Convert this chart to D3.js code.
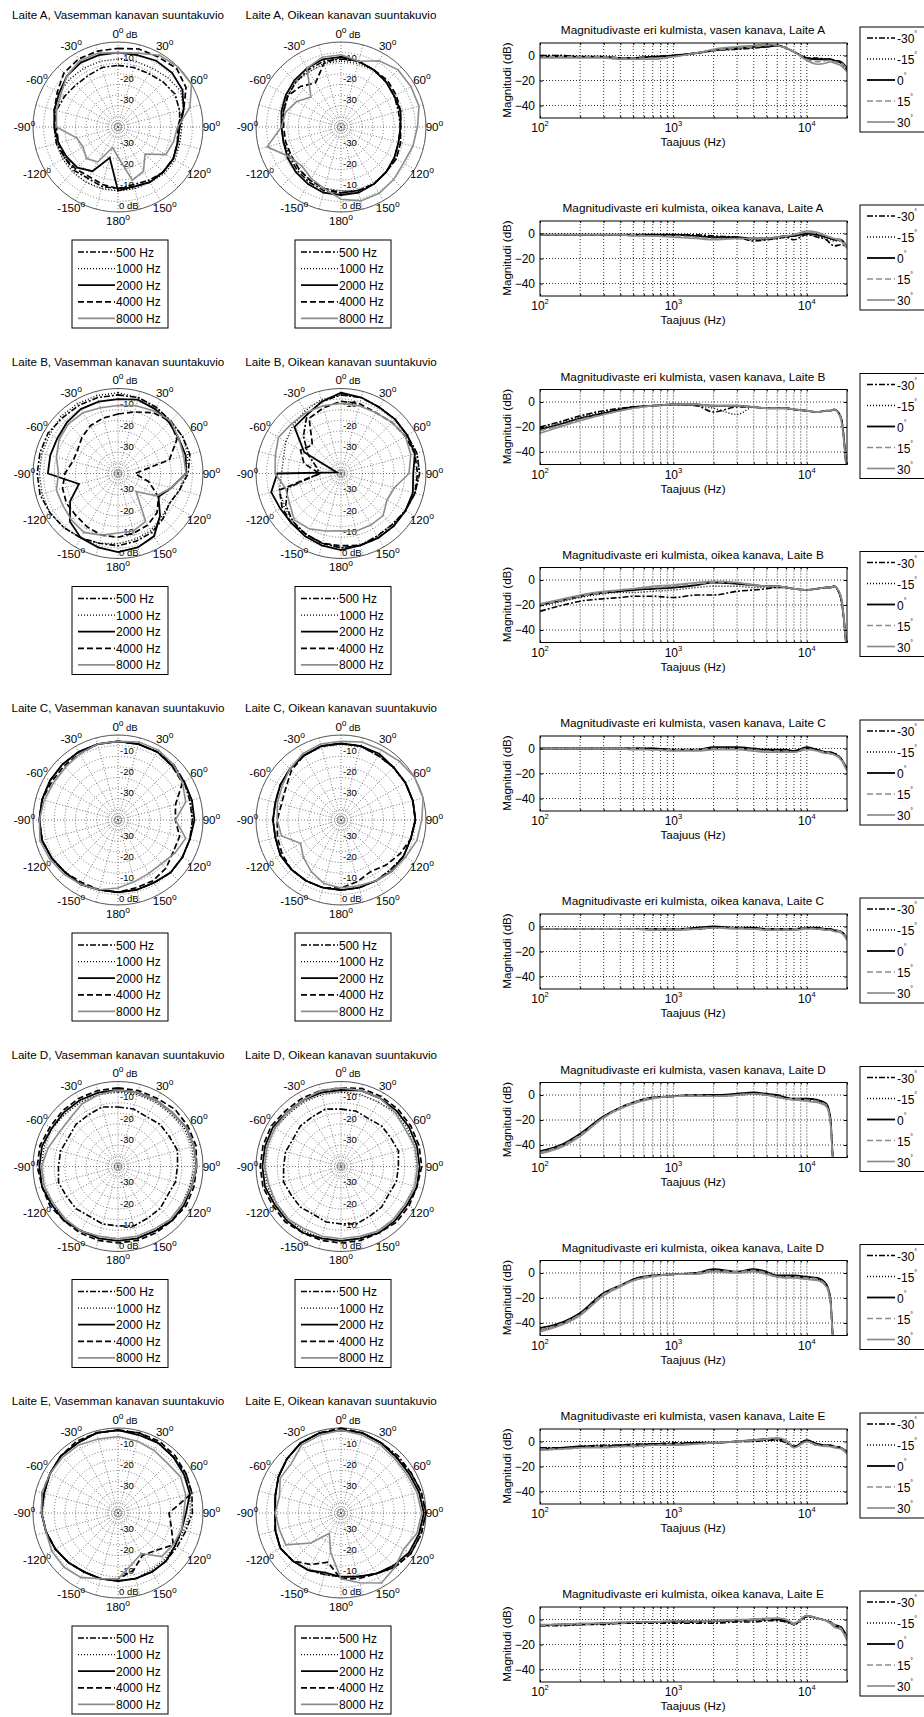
<!DOCTYPE html>
<html>
<head>
<meta charset="utf-8">
<script src="https://cdn.jsdelivr.net/npm/d3@7"></script>
<style>
  body { margin: 0; background: #fff; }
  text { font-family: "Liberation Sans", Arial, sans-serif; fill: #000; }
</style>
</head>
<body>
<div id="chart"></div>
<script>
// ---- data ----
// polar angles (deg, clockwise from front), 345 = -15
var angles = [0, 15, 30, 45, 60, 75, 90, 105, 120, 135, 150, 165, 180, 195, 210, 225, 240, 255, 270, 285, 300, 315, 330, 345];
var angleLabels = [0, 30, 60, 90, 120, 150, 180, -150, -120, -90, -60, -30];
var ringLabels = [-30, -20, -10];
var freqNames = ['500 Hz', '1000 Hz', '2000 Hz', '4000 Hz', '8000 Hz'];
var dirNames = ['-30', '-15', '0', '15', '30'];

var polarTitles = [
  'Laite A, Vasemman kanavan suuntakuvio', 'Laite A, Oikean kanavan suuntakuvio',
  'Laite B, Vasemman kanavan suuntakuvio', 'Laite B, Oikean kanavan suuntakuvio',
  'Laite C, Vasemman kanavan suuntakuvio', 'Laite C, Oikean kanavan suuntakuvio',
  'Laite D, Vasemman kanavan suuntakuvio', 'Laite D, Oikean kanavan suuntakuvio',
  'Laite E, Vasemman kanavan suuntakuvio', 'Laite E, Oikean kanavan suuntakuvio'
];
var magTitles = [
  'Magnitudivaste eri kulmista, vasen kanava, Laite A', 'Magnitudivaste eri kulmista, oikea kanava, Laite A',
  'Magnitudivaste eri kulmista, vasen kanava, Laite B', 'Magnitudivaste eri kulmista, oikea kanava, Laite B',
  'Magnitudivaste eri kulmista, vasen kanava, Laite C', 'Magnitudivaste eri kulmista, oikea kanava, Laite C',
  'Magnitudivaste eri kulmista, vasen kanava, Laite D', 'Magnitudivaste eri kulmista, oikea kanava, Laite D',
  'Magnitudivaste eri kulmista, vasen kanava, Laite E', 'Magnitudivaste eri kulmista, oikea kanava, Laite E'
];

// directivity, dB per angle; rows: 500, 1000, 2000, 4000, 8000 Hz
var polarAL = [
  [-11,-11,-11,-10,-9,-10,-11,-11,-10,-10,-11,-12,-11,-11,-12,-11,-11,-10,-10,-10,-11,-12,-12,-11],
  [-8,-8,-8,-7,-6,-8,-10,-10,-9,-9,-10,-10,-10,-10,-10,-10,-10,-10,-10,-9,-8,-8,-8,-8],
  [-5,-5,-4,-4,-5,-8,-11,-11,-10,-10,-10,-11,-10,-25,-16,-13,-12,-11,-10,-9,-8,-6,-5,-5],
  [-3,-2,-2,-1,-3,-8,-12,-11,-10,-10,-10,-11,-11,-12,-13,-12,-11,-11,-11,-9,-7,-4,-3,-3],
  [-5,-4,-1,0,0,-5,-12,-13,-14,-22,-16,-14,-26,-30,-21,-19,-21,-20,-11,-10,-9,-6,-4,-4]
];
var polarAR = [
  [-8,-8,-9,-10,-11,-12,-12,-12,-11,-10,-9,-9,-9,-9,-10,-11,-12,-12,-12,-12,-11,-10,-9,-8],
  [-9,-9,-9,-10,-11,-11,-12,-11,-10,-10,-9,-9,-10,-10,-11,-12,-13,-12,-12,-11,-11,-10,-10,-9],
  [-7,-8,-9,-10,-11,-11,-12,-12,-11,-10,-9,-8,-8,-8,-9,-10,-11,-12,-12,-11,-10,-9,-8,-7],
  [-7,-8,-9,-9,-10,-11,-12,-11,-10,-10,-9,-9,-9,-10,-11,-12,-13,-13,-13,-12,-11,-13,-16,-9],
  [-6,-8,-4,-2,-2,-2,-4,-5,-6,-5,-4,-4,-6,-10,-12,-14,-12,-4,-12,-13,-16,-20,-8,-6]
];
var polarBL = [
  [-3,-3,-4,-5,-5,-5,-7,-10,-12,-10,-8,-7,-6,-6,-5,-4,-3,-2,-2,-2,-2,-3,-3,-3],
  [-2,-3,-4,-5,-5,-6,-8,-10,-12,-11,-9,-8,-7,-6,-5,-4,-3,-3,-3,-3,-3,-2,-2,-2],
  [-5,-4,-5,-6,-7,-7,-8,-14,-18,-12,-6,-4,-3,-4,-5,-8,-14,-21,-7,-7,-7,-6,-5,-5],
  [-12,-10,-7,-5,-8,-15,-32,-25,-18,-14,-12,-11,-10,-10,-11,-12,-12,-13,-15,-18,-18,-16,-14,-13],
  [-8,-7,-6,-5,-7,-8,-8,-14,-19,-28,-14,-12,-12,-10,-8,-9,-10,-10,-12,-10,-8,-7,-7,-8]
];
var polarBR = [
  [-3,-3,-4,-4,-4,-3,-3,-4,-5,-6,-6,-5,-5,-6,-7,-8,-10,-14,-30,-28,-22,-15,-8,-5],
  [-3,-3,-4,-4,-4,-3,-3,-4,-5,-6,-6,-5,-5,-6,-7,-8,-9,-10,-12,-12,-10,-8,-6,-4],
  [-2,-3,-4,-4,-4,-4,-6,-5,-5,-5,-5,-5,-4,-5,-6,-7,-7,-6,-10,-38,-20,-9,-8,-5],
  [-6,-6,-7,-6,-5,-4,-4,-4,-5,-5,-5,-5,-6,-6,-7,-7,-8,-10,-30,-22,-18,-21,-10,-8],
  [-7,-7,-7,-6,-5,-6,-8,-14,-15,-12,-12,-12,-13,-12,-10,-9,-12,-13,-9,-8,-6,-7,-7,-7]
];
var polarCL = [
  [-3,-3,-3,-3,-4,-5,-5,-5,-5,-5,-6,-6,-6,-6,-5,-5,-4,-3,-3,-3,-3,-3,-3,-3],
  [-3,-3,-3,-3,-4,-4,-5,-5,-5,-5,-6,-6,-6,-6,-5,-5,-4,-3,-3,-3,-3,-3,-3,-3],
  [-3,-3,-3,-4,-4,-4,-4,-5,-5,-5,-6,-6,-6,-6,-5,-5,-4,-3,-3,-3,-3,-3,-3,-3],
  [-3,-3,-3,-4,-5,-12,-13,-10,-10,-8,-7,-7,-6,-6,-6,-5,-4,-3,-3,-3,-4,-4,-4,-3],
  [-3,-2,-2,-3,-5,-7,-13,-7,-9,-11,-11,-10,-8,-6,-5,-4,-3,-2,-3,-4,-5,-5,-4,-3]
];
var polarCR = [
  [-4,-4,-5,-5,-5,-5,-5,-6,-6,-7,-7,-7,-7,-7,-7,-7,-7,-8,-8,-8,-7,-6,-5,-4],
  [-4,-4,-5,-5,-5,-5,-5,-6,-6,-7,-7,-7,-7,-7,-7,-7,-7,-8,-8,-8,-7,-6,-5,-4],
  [-4,-4,-4,-5,-5,-5,-5,-6,-6,-6,-7,-7,-7,-7,-7,-7,-7,-8,-8,-8,-7,-6,-5,-4],
  [-4,-4,-5,-5,-5,-5,-5,-6,-8,-10,-12,-10,-8,-7,-7,-7,-8,-9,-10,-11,-10,-7,-5,-4],
  [-3,-2,-2,-1,0,0,-2,-3,-5,-6,-7,-8,-8,-9,-12,-15,-18,-11,-10,-9,-8,-6,-4,-3]
];
var polarDL = [
  [-12,-12,-13,-12,-12,-11,-12,-12,-13,-12,-12,-11,-12,-12,-13,-12,-12,-11,-12,-12,-13,-12,-12,-11],
  [-5,-5,-5,-5,-4,-4,-4,-5,-5,-5,-5,-6,-6,-6,-5,-5,-4,-4,-4,-4,-4,-5,-5,-5],
  [-4,-4,-4,-4,-3,-3,-3,-4,-4,-4,-5,-5,-5,-5,-5,-4,-4,-3,-3,-3,-4,-4,-4,-4],
  [-3,-3,-3,-2,-2,-2,-3,-3,-3,-4,-4,-4,-4,-4,-4,-4,-3,-3,-2,-2,-3,-3,-3,-3],
  [-4,-4,-4,-4,-3,-3,-3,-4,-5,-5,-6,-6,-6,-6,-5,-5,-5,-4,-4,-6,-8,-8,-6,-5]
];
var polarDR = [
  [-13,-13,-14,-13,-13,-12,-13,-13,-14,-13,-13,-12,-13,-13,-14,-13,-13,-12,-13,-13,-14,-13,-13,-12],
  [-5,-5,-5,-4,-4,-4,-4,-4,-5,-5,-5,-5,-5,-5,-5,-5,-5,-4,-4,-4,-4,-5,-5,-5],
  [-4,-3,-3,-3,-3,-3,-3,-3,-4,-4,-4,-5,-5,-5,-4,-4,-4,-3,-3,-3,-3,-4,-4,-4],
  [-3,-2,-2,-2,-2,-2,-2,-3,-3,-3,-4,-4,-4,-4,-4,-3,-3,-2,-2,-2,-2,-3,-3,-3],
  [-3,-3,-3,-4,-5,-4,-4,-4,-5,-5,-5,-6,-6,-6,-6,-5,-5,-5,-4,-4,-4,-4,-4,-3]
];
var polarEL = [
  [-1,-1,-2,-3,-3,-4,-5,-7,-8,-8,-8,-8,-8,-8,-8,-7,-6,-5,-4,-3,-3,-2,-2,-1],
  [-1,-1,-2,-3,-4,-5,-6,-8,-9,-9,-9,-8,-8,-8,-8,-7,-6,-5,-4,-4,-3,-2,-2,-1],
  [-1,-2,-2,-3,-4,-5,-8,-9,-9,-8,-8,-8,-8,-8,-8,-7,-6,-5,-4,-4,-3,-2,-2,-1],
  [-1,-1,-1,-2,-3,-4,-16,-14,-10,-15,-17,-12,-9,-8,-8,-7,-6,-5,-4,-4,-3,-2,-1,-1],
  [-4,-5,-6,-7,-6,-7,-9,-9,-10,-11,-18,-15,-9,-8,-5,-4,-4,-5,-4,-3,-3,-3,-3,-4]
];
var polarER = [
  [-1,-1,-2,-2,-2,-1,0,-1,-2,-4,-7,-9,-10,-10,-9,-8,-7,-8,-9,-8,-6,-4,-2,-1],
  [-1,-1,-2,-3,-3,-2,-1,-2,-3,-5,-7,-9,-10,-10,-9,-8,-7,-8,-9,-8,-6,-4,-2,-1],
  [-1,-1,-2,-3,-3,-2,-1,-2,-3,-5,-7,-9,-10,-11,-9,-8,-7,-8,-9,-8,-6,-4,-2,-1],
  [0,-1,-2,-3,-2,-1,0,-1,-2,-4,-7,-8,-9,-16,-12,-8,-7,-8,-9,-8,-6,-4,-2,-1],
  [-1,-2,-3,-4,-4,-3,-2,-3,-6,-4,-2,-6,-9,-21,-29,-20,-10,-10,-9,-10,-7,-7,-3,-2]
];

// magnitude responses; rows: -30, -15, 0, 15, 30 degrees
var freqs = [100, 150, 200, 300, 400, 500, 700, 1000, 1500, 2000, 3000, 4000, 5000, 6000, 7000, 8000, 10000, 12000, 14000, 15000, 16000, 18000, 20000];
var magAL = [
  [0,0,-1,-1,-2,-2,-1,0,2,4,5,6,7,8,6,3,-2,-2,-3,-3,-4,-6,-12],
  [0,0,-1,-1,-2,-2,-1,0,2,4,5,6,7,8,6,3,-2,-3,-3,-3,-4,-6,-12],
  [-1,-1,-1,-1,-2,-2,-1,0,2,4,6,7,7,8,6,3,-2,-3,-3,-3,-4,-5,-10],
  [-1,-1,-1,-1,-2,-2,-2,-1,2,4,6,7,8,8,6,3,-3,-5,-4,-4,-5,-6,-11],
  [-2,-2,-2,-2,-3,-3,-3,-1,2,5,7,8,9,8,6,3,-4,-7,-6,-5,-6,-8,-13]
];
var magAR = [
  [-1,-1,-1,-1,-1,-1,-1,-1,-1,-2,-3,-6,-5,-4,-3,-5,-1,-3,-5,-8,-10,-9,-11],
  [-1,-1,-1,-1,-1,-1,-1,-1,-2,-3,-4,-5,-5,-4,-3,-2,-1,-2,-4,-5,-6,-6,-10],
  [-1,-1,-1,-1,-1,-1,-1,-1,-2,-3,-3,-4,-4,-3,-2,-2,0,-1,-3,-4,-5,-5,-11],
  [-1,-1,-1,-1,-1,-1,-2,-2,-3,-4,-4,-4,-4,-3,-2,-1,1,0,-2,-3,-4,-5,-11],
  [-1,-1,-1,-1,-1,-2,-2,-3,-4,-5,-4,-4,-4,-3,-2,-1,2,1,-2,-3,-4,-6,-12]
];
var magBL = [
  [-20,-15,-11,-7,-5,-4,-3,-2,-3,-8,-4,-4,-5,-5,-5,-6,-7,-8,-7,-7,-6,-12,-60],
  [-21,-16,-12,-8,-6,-4,-3,-2,-3,-5,-10,-4,-5,-5,-5,-6,-7,-8,-7,-7,-6,-13,-60],
  [-22,-17,-13,-9,-6,-4,-3,-2,-2,-3,-3,-4,-5,-5,-5,-6,-7,-8,-7,-7,-6,-12,-60],
  [-23,-18,-14,-10,-7,-5,-3,-2,-2,-3,-3,-4,-5,-5,-5,-6,-7,-8,-7,-7,-6,-12,-60],
  [-25,-19,-15,-10,-7,-5,-3,-2,-2,-3,-3,-4,-5,-5,-5,-6,-7,-8,-7,-7,-6,-14,-60]
];
var magBR = [
  [-25,-20,-17,-15,-14,-13,-13,-14,-12,-12,-9,-8,-7,-6,-6,-7,-8,-7,-6,-6,-5,-15,-60],
  [-21,-17,-14,-11,-10,-10,-9,-8,-6,-5,-5,-6,-6,-6,-6,-7,-8,-7,-6,-6,-5,-14,-60],
  [-20,-16,-13,-10,-9,-8,-7,-6,-4,-2,-3,-4,-5,-5,-6,-7,-8,-7,-6,-6,-5,-14,-60],
  [-20,-16,-13,-10,-8,-7,-6,-5,-3,-2,-2,-4,-5,-5,-6,-7,-8,-7,-6,-6,-5,-13,-60],
  [-19,-15,-12,-9,-8,-7,-5,-4,-2,-1,-2,-4,-5,-5,-6,-7,-8,-7,-6,-6,-5,-13,-60]
];
var magCL = [
  [0,0,0,0,0,0,0,-1,-1,0,0,-1,-1,-2,-2,-2,0,-1,-3,-4,-4,-8,-17],
  [0,0,0,0,0,0,0,-1,-1,0,0,-1,-1,-2,-2,-2,0,-1,-3,-4,-4,-8,-17],
  [0,0,0,0,0,0,0,-1,-1,1,1,0,-1,-1,-1,-2,1,-1,-3,-3,-4,-8,-16],
  [0,0,0,0,0,0,-1,-1,-1,0,0,-1,-2,-2,-2,-3,0,-2,-3,-4,-5,-8,-17],
  [0,0,0,0,0,-1,-1,-2,-2,-1,-1,-2,-3,-3,-3,-3,-1,-2,-4,-4,-5,-9,-18]
];
var magCR = [
  [-2,-2,-2,-2,-2,-2,-2,-2,-2,-1,-1,-2,-2,-2,-2,-2,-1,-2,-2,-3,-3,-4,-10],
  [-2,-2,-2,-2,-2,-2,-2,-2,-2,-1,-1,-2,-2,-2,-2,-2,-1,-2,-2,-3,-3,-4,-10],
  [-2,-2,-2,-2,-2,-2,-2,-2,-1,0,-1,-1,-2,-2,-2,-2,-1,-1,-2,-2,-3,-4,-9],
  [-2,-2,-2,-2,-2,-2,-2,-2,-2,-1,-1,-2,-2,-2,-2,-2,-1,-2,-2,-3,-3,-4,-10],
  [-2,-2,-2,-2,-2,-2,-3,-3,-2,-1,-2,-2,-3,-3,-3,-3,-2,-2,-3,-3,-4,-5,-11]
];
var magDL = [
  [-46,-40,-32,-18,-10,-6,-2,-1,0,-1,0,1,0,-1,-3,-3,-4,-5,-8,-20,-60,-60,-60],
  [-46,-40,-32,-18,-10,-6,-2,-1,0,-1,0,1,0,-1,-3,-3,-4,-5,-8,-20,-60,-60,-60],
  [-45,-39,-31,-17,-10,-6,-2,-1,0,0,1,2,1,0,-2,-3,-3,-4,-7,-18,-60,-60,-60],
  [-46,-40,-32,-18,-10,-6,-2,-1,0,-1,0,1,0,-1,-3,-3,-4,-5,-8,-21,-60,-60,-60],
  [-47,-41,-33,-18,-11,-7,-3,-1,-1,-1,0,1,0,-2,-3,-4,-5,-6,-9,-22,-60,-60,-60]
];
var magDR = [
  [-46,-40,-33,-17,-10,-6,-2,-1,0,2,1,2,0,-3,-3,-3,-4,-5,-10,-22,-60,-60,-60],
  [-46,-40,-33,-17,-10,-6,-2,-1,0,2,1,2,0,-3,-3,-3,-4,-5,-10,-22,-60,-60,-60],
  [-44,-39,-32,-16,-10,-5,-2,-1,0,3,1,3,1,-2,-2,-2,-3,-4,-9,-20,-60,-60,-60],
  [-46,-40,-33,-17,-10,-6,-2,-1,0,2,1,2,0,-3,-3,-3,-4,-5,-10,-22,-60,-60,-60],
  [-47,-41,-34,-18,-11,-6,-3,-1,-1,1,0,1,-1,-3,-4,-4,-5,-6,-11,-23,-60,-60,-60]
];
var magEL = [
  [-5,-5,-4,-3,-3,-2,-2,-1,-1,-1,0,0,1,1,-1,-4,0,-3,-3,-4,-4,-5,-9],
  [-5,-5,-4,-3,-3,-2,-2,-2,-1,-1,0,0,1,1,-1,-4,0,-3,-3,-4,-4,-5,-9],
  [-6,-5,-4,-4,-3,-3,-2,-2,-1,-1,0,1,2,2,0,-4,1,-2,-3,-3,-4,-5,-8],
  [-6,-6,-5,-4,-4,-3,-3,-2,-2,-1,0,1,2,2,0,-5,0,-3,-3,-4,-4,-5,-9],
  [-7,-6,-5,-5,-4,-4,-3,-3,-2,-1,0,1,2,3,1,-5,0,-3,-4,-4,-5,-6,-10]
];
var magER = [
  [-5,-5,-4,-4,-3,-3,-3,-3,-3,-3,-2,-2,-1,-1,-2,-4,2,1,-1,-3,-5,-7,-15],
  [-5,-4,-4,-3,-3,-3,-2,-2,-2,-2,-1,-1,0,0,-1,-4,2,1,-1,-2,-4,-6,-14],
  [-5,-4,-4,-3,-3,-2,-2,-2,-2,-1,-1,0,0,0,-1,-4,3,1,-1,-2,-4,-6,-14],
  [-5,-4,-4,-3,-3,-2,-2,-2,-2,-1,-1,0,0,1,0,-4,3,1,-1,-2,-4,-7,-15],
  [-4,-4,-3,-3,-2,-2,-2,-1,-1,-1,0,0,1,1,0,-3,3,1,-1,-3,-6,-8,-17]
];

var polarData = [polarAL, polarAR, polarBL, polarBR, polarCL, polarCR, polarDL, polarDR, polarEL, polarER];
var magData = [magAL, magAR, magBL, magBR, magCL, magCR, magDL, magDR, magEL, magER];

// ---- layout ----
var width = 924, height = 1717;
var R = 85;               // 0 dB ring
var rowPitch = 346.5;
var gray = '#8c8c8c';

// line styles: dash-dot, dotted, solid, dashed, solid gray
var polarStyles = [
  { color: '#000', dash: '6,2,2,2', w: 1.6 },
  { color: '#000', dash: '1,2', w: 1.4 },
  { color: '#000', dash: null, w: 1.8 },
  { color: '#000', dash: '6,3', w: 1.7 },
  { color: gray, dash: null, w: 1.6 }
];
var magStyles = [
  { color: '#000', dash: '6,2,2,2', w: 1.6 },
  { color: '#000', dash: '1,2', w: 1.4 },
  { color: '#000', dash: null, w: 1.8 },
  { color: gray, dash: '6,3', w: 1.7 },
  { color: gray, dash: null, w: 1.7 }
];

var svg = d3.select('#chart').append('svg')
  .attr('width', width)
  .attr('height', height)
  .style('display', 'block');

function applyStyle(sel, s) {
  sel.attr('fill', 'none')
    .attr('stroke', s.color)
    .attr('stroke-width', s.w)
    .attr('stroke-dasharray', s.dash);
}

function drawPolar(idx) {
  var cx = idx % 2 === 0 ? 118 : 341;
  var cy = 127 + Math.floor(idx / 2) * rowPitch;
  var g = svg.append('g').attr('transform', 'translate(' + cx + ',' + cy + ')');
  var r = d3.scaleLinear().domain([-40, 0]).range([0, R]).clamp(true);

  g.append('text')
    .attr('x', 0).attr('y', -108)
    .attr('text-anchor', 'middle')
    .attr('font-size', '11.6px')
    .text(polarTitles[idx]);

  // dotted rings every 5 dB
  g.selectAll('.ring')
    .data(r.ticks(8).filter(function(d) { return d > -40 && d < 0; }))
    .enter().append('circle')
    .attr('r', function(d) { return r(d); })
    .attr('fill', 'none')
    .attr('stroke', '#555')
    .attr('stroke-width', 0.8)
    .attr('stroke-dasharray', '1,2');

  g.selectAll('.small-ring')
    .data([-39, -38])
    .enter().append('circle')
    .attr('r', function(d) { return r(d); })
    .attr('fill', 'none')
    .attr('stroke', '#555')
    .attr('stroke-width', 0.8)
    .attr('stroke-dasharray', '1,1');

  // spokes
  g.selectAll('.spoke')
    .data(angles)
    .enter().append('line')
    .attr('x1', 0).attr('y1', 0)
    .attr('x2', function(d) { return R * Math.sin(d * Math.PI / 180); })
    .attr('y2', function(d) { return -R * Math.cos(d * Math.PI / 180); })
    .attr('stroke', '#555')
    .attr('stroke-width', 0.8)
    .attr('stroke-dasharray', '1,2');

  g.append('circle')
    .attr('r', R)
    .attr('fill', 'none')
    .attr('stroke', '#555')
    .attr('stroke-width', 1);

  // ring labels, above and below the centre
  ringLabels.forEach(function(v) {
    [-1, 1].forEach(function(sgn) {
      g.append('text')
        .attr('x', 2)
        .attr('y', sgn * r(v) - 2.5)
        .attr('font-size', '9.5px')
        .text(v);
    });
  });
  // 0 dB: bottom one inside the ring, top one shares its "0" with the 0° label
  g.append('text')
    .attr('x', 1).attr('y', R - 3)
    .attr('font-size', '9.5px')
    .text('0 dB');
  g.append('text')
    .attr('x', 8).attr('y', -89.5)
    .attr('font-size', '9.5px')
    .text('dB');

  // angle labels
  angleLabels.forEach(function(a) {
    var rad = a * Math.PI / 180;
    var t = g.append('text')
      .attr('x', 93.5 * Math.sin(rad))
      .attr('y', -93.5 * Math.cos(rad) + 4)
      .attr('text-anchor', 'middle')
      .attr('font-size', '11.6px');
    t.append('tspan').text(a);
    t.append('tspan').attr('font-size', '8.5px').attr('dy', -5).text('o');
  });

  var line = d3.lineRadial()
    .angle(function(d, i) { return angles[i] * Math.PI / 180; })
    .radius(function(d) { return r(d); })
    .curve(d3.curveLinearClosed);

  polarData[idx].forEach(function(series, k) {
    g.append('path')
      .attr('d', line(series))
      .call(applyStyle, polarStyles[k]);
  });

  // legend
  var lg = g.append('g').attr('transform', 'translate(-46,113)');
  lg.append('rect')
    .attr('width', 96).attr('height', 88)
    .attr('fill', '#fff').attr('stroke', '#000').attr('stroke-width', 1);
  freqNames.forEach(function(name, k) {
    var yy = 12 + k * 16.6;
    lg.append('line')
      .attr('x1', 6).attr('x2', 43).attr('y1', yy).attr('y2', yy)
      .call(applyStyle, polarStyles[k]);
    lg.append('text')
      .attr('x', 44).attr('y', yy + 4.5)
      .attr('font-size', '12px')
      .text(name);
  });
}

function drawMag(idx) {
  var top = 43 + Math.floor(idx / 2) * rowPitch + (idx % 2) * 178;
  var x = d3.scaleLog().domain([100, 20000]).range([540, 847]);
  var y = d3.scaleLinear().domain([-50, 10]).range([top + 75, top]);
  var g = svg.append('g');

  g.append('text')
    .attr('x', 693).attr('y', top - 9)
    .attr('text-anchor', 'middle')
    .attr('font-size', '11.8px')
    .text(magTitles[idx]);

  // grid
  g.selectAll('.vgrid')
    .data(x.ticks().filter(function(d) { return d > 100 && d < 20000; }))
    .enter().append('line')
    .attr('x1', function(d) { return x(d); }).attr('x2', function(d) { return x(d); })
    .attr('y1', top).attr('y2', top + 75)
    .attr('stroke', '#000').attr('stroke-width', 0.8).attr('stroke-dasharray', '1,2');
  g.selectAll('.hgrid')
    .data([-40, -20, 0])
    .enter().append('line')
    .attr('x1', 540).attr('x2', 847)
    .attr('y1', function(d) { return y(d); }).attr('y2', function(d) { return y(d); })
    .attr('stroke', '#000').attr('stroke-width', 0.8).attr('stroke-dasharray', '1,2');

  var clipId = 'clip' + idx;
  svg.append('clipPath').attr('id', clipId)
    .append('rect').attr('x', 540).attr('y', top).attr('width', 307).attr('height', 75);

  var line = d3.line()
    .x(function(d, i) { return x(freqs[i]); })
    .y(function(d) { return y(d); })
    .curve(d3.curveMonotoneX);

  var lines = g.append('g').attr('clip-path', 'url(#' + clipId + ')');
  magData[idx].forEach(function(series, k) {
    lines.append('path')
      .attr('d', line(series))
      .call(applyStyle, magStyles[k]);
  });

  // axes box and ticks (inward)
  g.append('g').attr('transform', 'translate(0,' + (top + 75) + ')')
    .call(d3.axisBottom(x).tickValues(x.ticks()).tickSize(-2).tickFormat(''))
    .call(function(a) { a.select('.domain').remove(); });
  g.append('g').attr('transform', 'translate(0,' + top + ')')
    .call(d3.axisTop(x).tickValues(x.ticks()).tickSize(-2).tickFormat(''))
    .call(function(a) { a.select('.domain').remove(); });
  g.append('g').attr('transform', 'translate(540,0)')
    .call(d3.axisLeft(y).tickValues([-40, -20, 0]).tickSize(-3).tickPadding(5))
    .call(function(a) {
      a.select('.domain').remove();
      a.selectAll('text').attr('font-size', '12px').attr('font-family', '"Liberation Sans", Arial, sans-serif');
    });
  g.append('g').attr('transform', 'translate(847,0)')
    .call(d3.axisRight(y).tickValues([-40, -20, 0]).tickSize(-3).tickFormat(''))
    .call(function(a) { a.select('.domain').remove(); });
  g.append('rect')
    .attr('x', 540).attr('y', top).attr('width', 307).attr('height', 75)
    .attr('fill', 'none').attr('stroke', '#000').attr('stroke-width', 1);

  // decade labels 10^n
  [100, 1000, 10000].forEach(function(f) {
    var t = g.append('text')
      .attr('x', x(f)).attr('y', top + 89)
      .attr('text-anchor', 'middle')
      .attr('font-size', '12px');
    t.append('tspan').text('10');
    t.append('tspan').attr('font-size', '7.5px').attr('dy', -6).text(Math.round(Math.log10(f)));
  });

  g.append('text')
    .attr('x', 693).attr('y', top + 103)
    .attr('text-anchor', 'middle')
    .attr('font-size', '11.6px')
    .text('Taajuus (Hz)');
  g.append('text')
    .attr('transform', 'translate(511,' + (top + 37) + ') rotate(-90)')
    .attr('text-anchor', 'middle')
    .attr('font-size', '11.6px')
    .text('Magnitudi (dB)');

  // legend (runs past the page edge)
  var lg = g.append('g').attr('transform', 'translate(860,' + (top - 16) + ')');
  lg.append('rect')
    .attr('width', 90).attr('height', 105)
    .attr('fill', '#fff').attr('stroke', '#000').attr('stroke-width', 1);
  dirNames.forEach(function(name, k) {
    var yy = 11 + k * 21;
    lg.append('line')
      .attr('x1', 7).attr('x2', 35).attr('y1', yy).attr('y2', yy)
      .call(applyStyle, magStyles[k]);
    var t = lg.append('text')
      .attr('x', 37).attr('y', yy + 5)
      .attr('font-size', '12px');
    t.append('tspan').text(name);
    t.append('tspan').attr('font-size', '7px').attr('dy', -7).text('°');
  });
}

for (var i = 0; i < 10; i++) {
  drawPolar(i);
  drawMag(i);
}
</script>
</body>
</html>
